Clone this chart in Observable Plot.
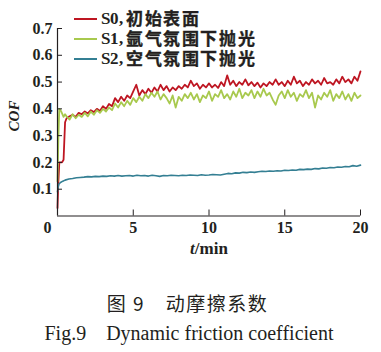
<!DOCTYPE html>
<html>
<head>
<meta charset="utf-8">
<script src="https://cdn.jsdelivr.net/npm/d3@7"></script>
<script src="https://cdn.jsdelivr.net/npm/@observablehq/plot@0.6"></script>
<style>
  @font-face {
    font-family: "LegCJK";
    src: local("Noto Sans CJK SC Bold"), local("NotoSansCJKsc-Bold"), local("Noto Sans CJK SC Medium"), local("NotoSansCJKsc-Medium"), local("Noto Sans CJK SC"), local("Noto Sans CJK SC Regular");
    font-weight: 100 900;
    ascent-override: 82%;
    descent-override: 10%;
    line-gap-override: 0%;
  }
  @font-face {
    font-family: "LegSerif";
    src: local("Liberation Serif Bold"), local("LiberationSerif-Bold");
    ascent-override: 78%;
    descent-override: 12%;
    line-gap-override: 0%;
  }
  html, body { margin: 0; padding: 0; background: #fff; }
  #wrap { position: relative; width: 381px; height: 352px; overflow: hidden; }
  #wrap svg text { font-family: "Liberation Serif", "DejaVu Serif", serif; font-weight: bold; fill: #231f20; }
  .ov { position: absolute; white-space: nowrap; color: #231f20; }
  .leg { position: absolute; left: 74px; height: 18px; line-height: 18px; display: flex; align-items: center; white-space: nowrap; }
  .sw { display: inline-block; width: 23px; height: 2px; margin-right: 4px; }
  .lab { display: inline-block; height: 18px; line-height: 18px; font-family: "LegSerif", "Liberation Serif", serif; font-size: 17px; color: #231f20; }
  .zh { display: inline-block; height: 18px; line-height: 18px; font-family: "LegCJK", "Noto Sans CJK SC", sans-serif; font-size: 17px; letter-spacing: 1.6px; color: #231f20; margin-left: 3px; -webkit-text-stroke: 0.35px #231f20; }
</style>
</head>
<body>
<div id="wrap"></div>
<script>
// ---- data ----
const seriesNames = ["S0, 初始表面", "S1, 氩气氛围下抛光", "S2, 空气氛围下抛光"];
const seriesColors = ["#be1622", "#a8c94e", "#347f93"];

const xTicks = [5, 10, 15, 20];
const yTicks = [0.1, 0.2, 0.3, 0.4, 0.5, 0.6, 0.7];

// running-in portion (t, value) pairs
const s0Start = [[0, 0.03], [0.05, 0.12], [0.12, 0.2], [0.3, 0.2], [0.4, 0.21], [0.5, 0.35]];
const s1Start = [[0, 0.13], [0.06, 0.3], [0.12, 0.40], [0.25, 0.39], [0.4, 0.37], [0.5, 0.38]];
const s2Start = [[0, 0.09], [0.05, 0.11], [0.1, 0.12], [0.2, 0.125], [0.35, 0.13]];

// steady portion: sampled every 0.2 min from t = 0.6
const s0Start_t = 0.6, s0Step = 0.2;
const s0Values = [
  0.365,0.372,0.378,0.370,0.385,0.380,0.390,0.383,0.395,0.388,
  0.400,0.392,0.410,0.400,0.418,0.410,0.440,0.425,0.445,0.430,
  0.450,0.440,0.465,0.490,0.450,0.470,0.455,0.475,0.460,0.480,
  0.465,0.490,0.470,0.485,0.465,0.480,0.470,0.485,0.475,0.490,
  0.480,0.505,0.485,0.495,0.475,0.490,0.480,0.495,0.480,0.490,
  0.478,0.500,0.485,0.525,0.490,0.505,0.485,0.500,0.490,0.510,
  0.488,0.500,0.485,0.498,0.480,0.495,0.485,0.500,0.490,0.510,
  0.490,0.500,0.485,0.505,0.490,0.520,0.495,0.505,0.485,0.500,
  0.490,0.510,0.495,0.505,0.490,0.515,0.495,0.500,0.490,0.510,
  0.495,0.520,0.500,0.510,0.495,0.520,0.505,0.540
];
const s1Start_t = 0.6, s1Step = 0.2;
const s1Values = [
  0.372,0.360,0.380,0.365,0.378,0.370,0.385,0.372,0.390,0.378,
  0.395,0.385,0.400,0.390,0.405,0.395,0.420,0.405,0.425,0.410,
  0.430,0.415,0.440,0.425,0.445,0.430,0.455,0.440,0.460,0.445,
  0.465,0.435,0.455,0.440,0.420,0.450,0.405,0.445,0.430,0.455,
  0.440,0.460,0.435,0.455,0.425,0.450,0.440,0.465,0.430,0.455,
  0.445,0.470,0.440,0.455,0.435,0.465,0.445,0.475,0.440,0.460,
  0.450,0.470,0.440,0.465,0.445,0.475,0.450,0.460,0.435,0.415,
  0.450,0.465,0.440,0.470,0.445,0.460,0.430,0.455,0.445,0.470,
  0.440,0.460,0.405,0.450,0.435,0.460,0.445,0.470,0.430,0.455,
  0.440,0.465,0.435,0.455,0.430,0.460,0.440,0.450
];
// sampled every 0.25 min from t = 0.5
const s2Start_t = 0.5, s2Step = 0.25;
const s2Values = [
  0.134,0.138,0.140,0.143,0.144,0.145,0.147,0.146,
  0.148,0.147,0.149,0.148,0.150,0.149,0.151,0.149,
  0.150,0.151,0.149,0.152,0.150,0.151,0.149,0.152,
  0.150,0.148,0.151,0.150,0.152,0.151,0.150,0.152,
  0.151,0.153,0.152,0.151,0.154,0.152,0.153,0.155,
  0.154,0.153,0.156,0.159,0.158,0.161,0.160,0.163,
  0.162,0.164,0.163,0.165,0.167,0.166,0.168,0.167,
  0.169,0.168,0.171,0.170,0.172,0.171,0.174,0.173,
  0.175,0.174,0.177,0.176,0.179,0.178,0.181,0.180,
  0.183,0.182,0.185,0.184,0.188,0.186,0.190
];

function build(start, t0, step, vals) {
  const out = start.map(([t, v]) => ({t, v}));
  vals.forEach((v, i) => out.push({t: +(t0 + i * step).toFixed(3), v}));
  return out;
}
const d0 = build(s0Start, s0Start_t, s0Step, s0Values);
const d1 = build(s1Start, s1Start_t, s1Step, s1Values);
const d2 = build(s2Start, s2Start_t, s2Step, s2Values);

// ---- layout ----
const W = 381, H = 265, mL = 57, mR = 21, mT = 28, mB = 49.5;
const innerW = W - mL - mR, innerH = H - mT - mB;

const chart = Plot.plot({
  width: W, height: H,
  marginLeft: mL, marginRight: mR, marginTop: mT, marginBottom: mB,
  style: {fontSize: "16px", background: "transparent", overflow: "visible"},
  x: {domain: [0, 20], axis: null},
  y: {domain: [0, 0.7], axis: null},
  marks: [
    Plot.lineY(d0, {x: "t", y: "v", stroke: seriesColors[0], strokeWidth: 1.8}),
    Plot.lineY(d1, {x: "t", y: "v", stroke: seriesColors[1], strokeWidth: 1.8}),
    Plot.lineY(d2, {x: "t", y: "v", stroke: seriesColors[2], strokeWidth: 1.6}),
    Plot.ruleX([0], {stroke: "#231f20", strokeWidth: 1.2}),
    Plot.ruleY([0], {stroke: "#231f20", strokeWidth: 1.2}),
    Plot.tickY(yTicks, {y: d => d, insetRight: innerW - 5, stroke: "#231f20", strokeWidth: 1}),
    Plot.tickX(xTicks, {x: d => d, insetTop: innerH - 6, stroke: "#231f20", strokeWidth: 1}),
    Plot.axisY({ticks: yTicks, tickSize: 0, tickPadding: 5, tickFormat: d => d.toFixed(1), fontSize: 16, label: null}),
    Plot.axisX({ticks: xTicks, tickSize: 0, tickPadding: 6, tickFormat: d => String(d), fontSize: 16, label: null}),
    Plot.text([0], {x: 0, y: 0, text: d => String(d), dx: -10, dy: 12, fontSize: 16})
  ]
});

const wrap = document.getElementById("wrap");
chart.style.position = "absolute";
chart.style.left = "0px";
chart.style.top = "0px";
wrap.appendChild(chart);

// axis titles
const yl = document.createElement("div");
yl.className = "ov";
yl.style.cssText = "left:13.5px;top:116px;transform:translate(-50%,-50%) rotate(-90deg);font-family:'Liberation Serif',serif;font-style:italic;font-weight:bold;font-size:15px;";
yl.textContent = "COF";
wrap.appendChild(yl);

const xl = document.createElement("div");
xl.className = "ov";
xl.style.cssText = "left:209px;top:249px;transform:translate(-50%,-50%);font-family:'Liberation Serif',serif;font-weight:bold;font-size:17px;";
const ti = document.createElement("i"); ti.textContent = "t";
xl.appendChild(ti);
xl.appendChild(document.createTextNode("/min"));
wrap.appendChild(xl);

// legend
const rowsY = [19, 38.5, 58.5];
seriesNames.forEach((name, i) => {
  const row = document.createElement("div");
  row.className = "leg";
  row.style.top = (rowsY[i] - 9) + "px";
  const sw = document.createElement("span");
  sw.className = "sw"; sw.style.background = seriesColors[i];
  const parts = name.split(", ");
  const a = document.createElement("span"); a.className = "lab"; a.textContent = parts[0] + ",";
  const b = document.createElement("span"); b.className = "zh"; b.textContent = parts[1];
  row.append(sw, a, b);
  wrap.appendChild(row);
});

// caption
const c1 = document.createElement("div");
c1.className = "ov";
c1.style.cssText = "left:0;width:375px;text-align:center;top:291px;line-height:24px;font-family:'Noto Sans CJK SC',sans-serif;font-size:19px;font-weight:400;letter-spacing:1.5px;";
c1.textContent = "图 9　动摩擦系数";
wrap.appendChild(c1);

const c2 = document.createElement("div");
c2.className = "ov";
c2.style.cssText = "left:0;width:378px;text-align:center;top:321px;line-height:24px;font-family:'Liberation Serif',serif;font-size:20px;";
c2.textContent = "Fig.9　Dynamic friction coefficient";
wrap.appendChild(c2);
</script>
</body>
</html>
